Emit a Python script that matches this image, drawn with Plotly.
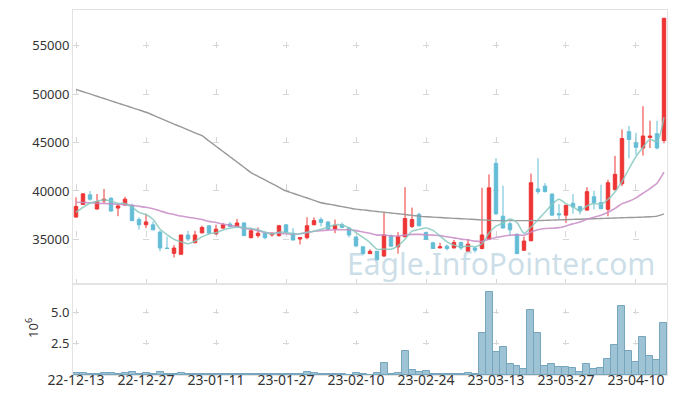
import plotly.graph_objects as go

dates = [
    "2022-12-13", "2022-12-14", "2022-12-15", "2022-12-16", "2022-12-19", "2022-12-20", "2022-12-21",
    "2022-12-22", "2022-12-23", "2022-12-26", "2022-12-27", "2022-12-28", "2022-12-29",
    "2023-01-02", "2023-01-03", "2023-01-04", "2023-01-05", "2023-01-06", "2023-01-09", "2023-01-10",
    "2023-01-11", "2023-01-12", "2023-01-13", "2023-01-16", "2023-01-17", "2023-01-18", "2023-01-19",
    "2023-01-20", "2023-01-25", "2023-01-26", "2023-01-27", "2023-01-30", "2023-01-31",
    "2023-02-01", "2023-02-02", "2023-02-03", "2023-02-06", "2023-02-07", "2023-02-08", "2023-02-09",
    "2023-02-10", "2023-02-13", "2023-02-14", "2023-02-15", "2023-02-16", "2023-02-17", "2023-02-20",
    "2023-02-21", "2023-02-22", "2023-02-23", "2023-02-24", "2023-02-27", "2023-02-28",
    "2023-03-02", "2023-03-03", "2023-03-06", "2023-03-07", "2023-03-08", "2023-03-09", "2023-03-10",
    "2023-03-13", "2023-03-14", "2023-03-15", "2023-03-16", "2023-03-17", "2023-03-20", "2023-03-21",
    "2023-03-22", "2023-03-23", "2023-03-24", "2023-03-27", "2023-03-28", "2023-03-29", "2023-03-30",
    "2023-03-31", "2023-04-03", "2023-04-04", "2023-04-05", "2023-04-06", "2023-04-07", "2023-04-10",
    "2023-04-11", "2023-04-12", "2023-04-13", "2023-04-14",
]

tick_dates = ["2022-12-13", "2022-12-27", "2023-01-11", "2023-01-27", "2023-02-10",
              "2023-02-24", "2023-03-13", "2023-03-27", "2023-04-10"]
tick_labels = ["22-12-13", "22-12-27", "23-01-11", "23-01-27", "23-02-10",
               "23-02-24", "23-03-13", "23-03-27", "23-04-10"]

open_ = [37300, 38600, 39600, 38130, 38980, 39250, 38230, 38550, 38500, 37050,
         36500, 36500, 35750, 34100, 33550, 33450, 35450, 34650, 35670, 36400,
         35560, 36160, 36580, 36330, 36690, 35170, 35380, 35630, 35450, 35380,
         36500, 35630, 35030, 35170, 36510, 37040, 36800, 36060, 36510, 36160,
         35240, 34220, 33520, 33760, 33270, 35380, 34220, 35270, 36330, 37570,
         35700, 34640, 34110, 34290, 34110, 34680, 33760, 34110, 34050, 35000,
         42850, 37390, 36620, 35530, 33870, 34850, 40210, 40500, 39680, 37640,
         37500, 38730, 38380, 38020, 39400, 38800, 38100, 40140, 40740, 46130,
         44970, 44440, 45530, 45920, 45220]
high = [39350, 39750, 40000, 39680, 40200, 39350, 38700, 39400, 38700, 37300,
        37640, 36850, 35900, 35280, 34400, 35450, 35880, 35880, 36400, 36400,
        36510, 36700, 36800, 37110, 36750, 36160, 36230, 35650, 35700, 36500,
        36550, 36160, 35250, 37280, 37280, 37280, 36850, 37040, 36750, 36230,
        35300, 34300, 33970, 33800, 37750, 35500, 35740, 40390, 38280, 37750,
        35750, 34750, 34640, 34450, 34930, 34750, 35030, 34200, 40320, 41720,
        43380, 40560, 36800, 35600, 35280, 41800, 43380, 40810, 39750, 38630,
        38550, 39680, 38450, 40390, 40030, 40640, 41160, 43630, 46370, 46730,
        46030, 48770, 47260, 47260, 57860]
low = [37250, 38550, 39000, 38100, 38700, 37900, 37390, 38500, 36900, 36000,
       36160, 35950, 33760, 34000, 33130, 33450, 34820, 34600, 35600, 35600,
       35500, 36100, 36250, 36250, 35350, 35100, 35170, 35000, 35280, 35280,
       35700, 34900, 34470, 35000, 36450, 36330, 36000, 35630, 36150, 35200,
       34200, 33340, 33480, 32800, 33200, 34200, 33520, 35200, 36160, 36350,
       34950, 34000, 34080, 33850, 34050, 33900, 33700, 33620, 33950, 35000,
       37500, 36160, 35380, 33500, 33800, 34800, 39680, 39850, 37450, 37040,
       36690, 37640, 37570, 37950, 38100, 38100, 37390, 40050, 40500, 43380,
       43730, 43660, 44440, 44300, 44930]
close = [38400, 39700, 39150, 38900, 39150, 37920, 38450, 39150, 36930, 36500,
         36800, 35980, 34100, 34050, 34100, 35450, 35030, 35450, 36230, 35630,
         36050, 36500, 36330, 36690, 35380, 35880, 35630, 35170, 35630, 36400,
         35740, 34930, 35170, 36400, 36930, 36750, 36060, 36440, 36230, 35450,
         34320, 33520, 33760, 32890, 35450, 34290, 35270, 37150, 37040, 36400,
         35000, 34050, 34220, 34050, 34680, 34110, 34500, 33870, 35450, 40320,
         37640, 36160, 35980, 33520, 34820, 40850, 39930, 39930, 37500, 37540,
         38520, 38340, 37920, 39930, 38800, 38170, 40850, 41720, 45420, 45320,
         44510, 45680, 45680, 44440, 57860]

ma5 = [37780, 38310, 38730, 38940, 39060, 38964, 38714, 38714, 38320, 37790,
       37566, 37072, 36062, 35486, 35006, 34736, 34546, 34816, 35252, 35558,
       35678, 35972, 36148, 36240, 36190, 36156, 35982, 35750, 35538, 35742,
       35714, 35574, 35574, 35728, 35834, 36036, 36262, 36516, 36482, 36186,
       35700, 35192, 34656, 33988, 33988, 33982, 34332, 35010, 35840, 36030,
       36172, 35928, 35342, 34744, 34400, 34222, 34312, 34242, 34522, 35650,
       36356, 36688, 37110, 36724, 35624, 36266, 37020, 37810, 38606, 39150,
       38684, 38366, 37964, 38450, 38702, 38632, 39134, 39894, 40992, 42296,
       43564, 44530, 45322, 45126, 47634]
ma20 = [38837, 38805, 38784, 38731, 38700, 38678, 38626, 38573, 38520, 38414,
        38308, 38150, 37938, 37727, 37568, 37410, 37283, 37177, 37040, 36853,
        36736, 36576, 36435, 36325, 36136, 36034, 35893, 35694, 35629, 35624,
        35571, 35519, 35572, 35690, 35831, 35896, 35948, 35997, 35997, 35988,
        35902, 35753, 35624, 35434, 35438, 35358, 35340, 35439, 35510, 35510,
        35473, 35429, 35381, 35264, 35151, 35019, 34941, 34813, 34774, 35017,
        35183, 35315, 35426, 35458, 35426, 35754, 35987, 36126, 36149, 36206,
        36382, 36597, 36782, 37076, 37282, 37485, 37802, 38195, 38693, 38943,
        39287, 39763, 40248, 40794, 41946]
ma120 = [50500, 50260, 50030, 49790, 49560, 49320, 49080, 48850, 48610, 48380,
         48140, 47840, 47530, 47230, 46920, 46620, 46320, 46010, 45710, 45160,
         44620, 44080, 43540, 43000, 42450, 41900, 41520, 41140, 40760, 40380,
         40000, 39760, 39510, 39270, 39030, 38780, 38650, 38520, 38380, 38250,
         38120, 38040, 37960, 37880, 37800, 37720, 37640, 37560, 37480, 37400,
         37330, 37290, 37250, 37210, 37170, 37130, 37090, 37050, 37010, 36970,
         36930, 36930, 36930, 36930, 36930, 36930, 36930, 36960, 36980, 37010,
         37030, 37060, 37080, 37110, 37130, 37150, 37180, 37200, 37230, 37250,
         37270, 37300, 37330, 37400, 37640]

volume_m = [0.13, 0.13, 0.05, 0.05, 0.13, 0.13, 0.05, 0.13, 0.20, 0.05,
            0.13, 0.05, 0.20, 0.05, 0.05, 0.13, 0.05, 0.05, 0.05, 0.05,
            0.05, 0.05, 0.05, 0.05, 0.05, 0.05, 0.05, 0.05, 0.05, 0.05,
            0.05, 0.05, 0.05, 0.20, 0.13, 0.05, 0.05, 0.05, 0.05, 0.02,
            0.13, 0.05, 0.02, 0.13, 0.95, 0.05, 0.13, 1.93, 0.38, 0.23,
            0.30, 0.07, 0.07, 0.07, 0.07, 0.07, 0.15, 0.05, 3.32, 6.61,
            1.85, 2.25, 0.86, 0.70, 0.48, 5.19, 3.32, 0.70, 0.86, 0.60,
            0.60, 0.54, 0.22, 0.86, 0.48, 0.54, 1.30, 2.42, 5.52, 1.93,
            1.03, 3.07, 1.52, 1.22, 4.16]

for arr in (open_, high, low, close, ma5, ma20, ma120, volume_m):
    assert len(arr) == len(dates), len(arr)

# trading-day positions (gaps for weekends/holidays are removed)
pos = list(range(len(dates)))
tick_pos = [dates.index(d) for d in tick_dates]

FONT = "Noto Sans"
TXT = "#333333"
GRID = "#d6d6d6"
FRAME = "#e3e3e3"

fig = go.Figure()

fig.add_trace(go.Candlestick(
    x=pos, open=open_, high=high, low=low, close=close,
    increasing=dict(line=dict(color="#ee3535", width=1), fillcolor="#ee3535"),
    decreasing=dict(line=dict(color="#64bdd6", width=1), fillcolor="#64bdd6"),
    whiskerwidth=0, showlegend=False, hoverinfo="skip",
    xaxis="x", yaxis="y",
))

fig.add_trace(go.Scatter(x=pos, y=ma120, mode="lines",
                         line=dict(color="#999999", width=1.4, shape="spline", smoothing=0.6),
                         showlegend=False, hoverinfo="skip", xaxis="x", yaxis="y"))
fig.add_trace(go.Scatter(x=pos, y=ma20, mode="lines", opacity=0.85,
                         line=dict(color="#c98bc6", width=1.6, shape="spline", smoothing=0.6),
                         showlegend=False, hoverinfo="skip", xaxis="x", yaxis="y"))
fig.add_trace(go.Scatter(x=pos, y=ma5, mode="lines", opacity=0.85,
                         line=dict(color="#86c9bf", width=1.5, shape="spline", smoothing=0.8),
                         showlegend=False, hoverinfo="skip", xaxis="x", yaxis="y"))

fig.add_trace(go.Bar(x=pos, y=volume_m,
                     marker=dict(color="rgba(140,184,206,0.85)",
                                 line=dict(color="rgb(118,165,190)", width=1)),
                     width=1.0, showlegend=False, hoverinfo="skip",
                     xaxis="x2", yaxis="y2"))

xrange = [-0.43, len(dates) - 1 + 0.43]
split = 0.2493

common_x = dict(
    type="linear", range=xrange, autorange=False, showline=True, mirror=True, linecolor=FRAME,
    tickmode="array", tickvals=tick_pos, ticks="", zeroline=False, automargin=False,
    showgrid=True, gridcolor=GRID, gridwidth=1,
)

# The page body has an 8px default margin, so the figure is sized to fit inside it.
fig.update_layout(
    width=669, height=388,
    margin=dict(l=65, r=10, t=2, b=21, autoexpand=False),
    paper_bgcolor="white", plot_bgcolor="white",
    font=dict(family=FONT, size=13, color=TXT),
    bargap=0,
    xaxis=dict(common_x, domain=[0, 1], anchor="y", showticklabels=False,
               rangeslider=dict(visible=False), griddash="0px,32px,6px,9.3px"),
    xaxis2=dict(common_x, domain=[0, 1], anchor="y2",
                ticktext=tick_labels, showticklabels=True, ticklabelstandoff=-8,
                tickfont=dict(family=FONT, size=14, color=TXT),
                griddash="0px,25.2px,5px,25.6px,5px,200px"),
    yaxis=dict(domain=[split, 1], anchor="x", range=[30380, 58710], autorange=False,
               tickvals=[35000, 40000, 45000, 50000, 55000], tickformat="d",
               showline=True, mirror=True, linecolor=FRAME, ticks="", automargin=False,
               showgrid=True, gridcolor=GRID, griddash="6px,64px", zeroline=False,
               tickfont=dict(family=FONT, size=13, color=TXT)),
    yaxis2=dict(domain=[0, split], anchor="x2", range=[0, 7.26], autorange=False,
                tickvals=[2.5, 5.0], tickformat=".1f", automargin=False,
                showline=True, mirror=True, linecolor=FRAME, ticks="",
                showgrid=True, gridcolor=GRID, griddash="6px,64px", zeroline=False,
                tickfont=dict(family=FONT, size=13, color=TXT)),
    annotations=[
        dict(text="Eagle.InfoPointer.com", xref="paper", yref="paper",
             x=0.72, y=0.305, xanchor="center", yanchor="middle", showarrow=False,
             font=dict(family=FONT, size=30, color="rgba(160,195,213,0.55)")),
        dict(text="10<sup>6</sup>", xref="paper", yref="paper", textangle=-90,
             x=-0.069, y=0.129, xanchor="center", yanchor="middle", showarrow=False,
             font=dict(family=FONT, size=13, color=TXT)),
    ],
)

fig.write_html("out.html")
